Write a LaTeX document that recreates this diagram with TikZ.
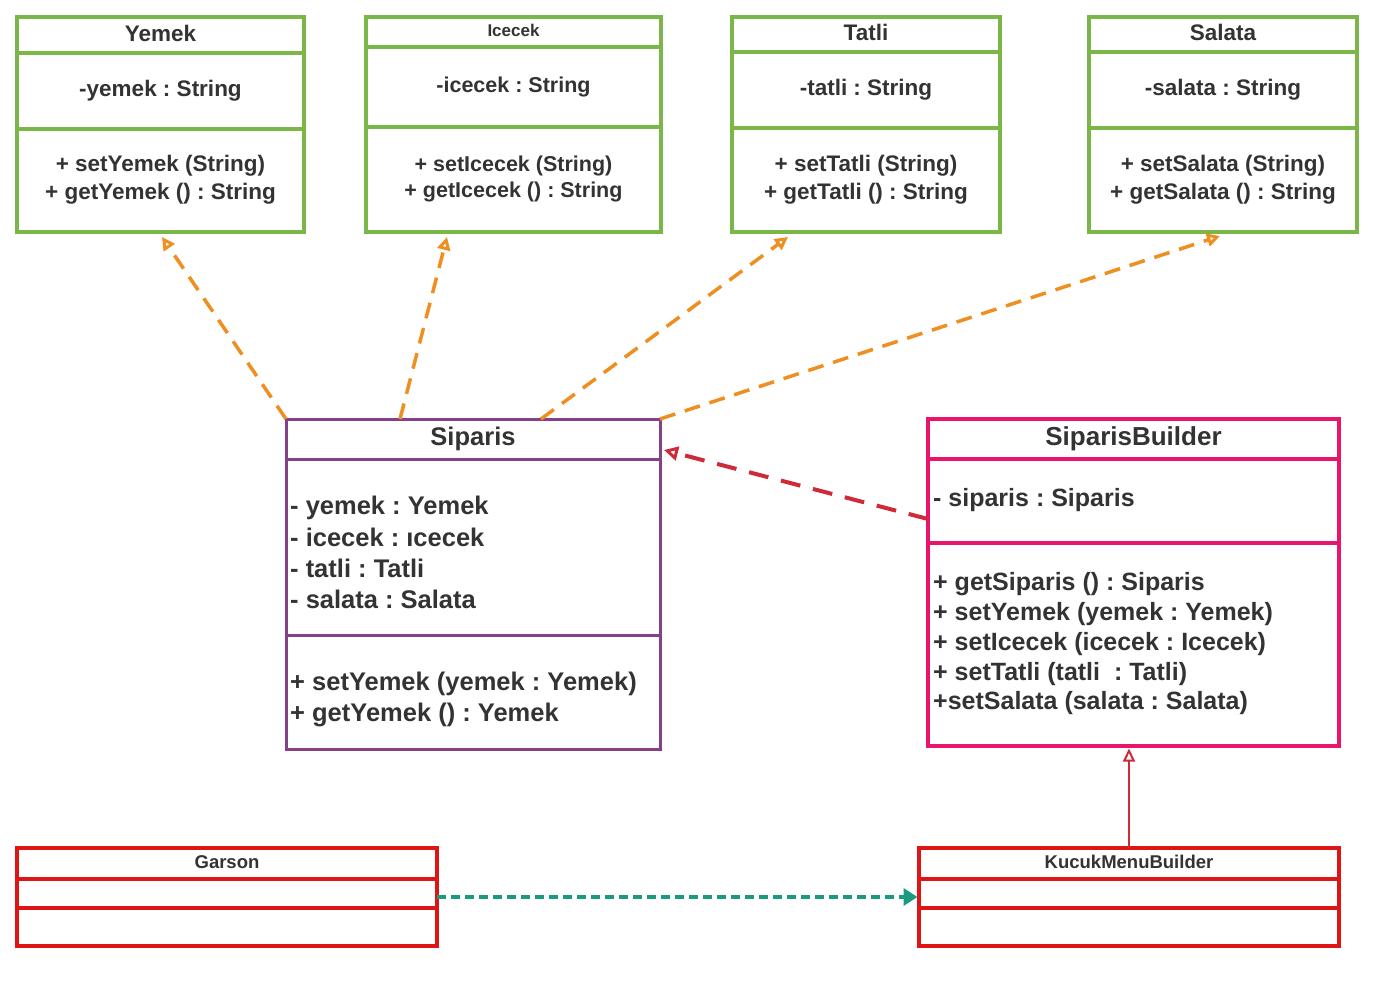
\documentclass[tikz,border=0pt]{standalone}
\usepackage{fontspec}
\setmainfont{Liberation Sans}
\usetikzlibrary{arrows.meta,calc}
\definecolor{grn}{HTML}{7AB648}
\definecolor{prp}{HTML}{834187}
\definecolor{pnk}{HTML}{E8156A}
\definecolor{rdb}{HTML}{DD1515}
\definecolor{org}{HTML}{EF8F22}
\definecolor{rdd}{HTML}{CF2A3A}
\definecolor{tel}{HTML}{1A9A80}
\definecolor{txt}{HTML}{333333}
\frenchspacing
\tikzset{
  umlbox/.style={draw=#1, fill=white, inner sep=0pt, outer sep=0pt},
  fs/.style 2 args={font=\fontsize{#1}{#2}\selectfont\bfseries\frenchspacing, text=txt, inner sep=0pt},
  orgarrow/.style={org, line width=3.5pt, dash pattern=on 16pt off 10pt,
    -{Triangle[open,length=13pt,width=13pt,line width=3pt]}},
}
\begin{document}
\begin{tikzpicture}[x=1pt,y=-1pt]
\useasboundingbox[fill=white] (0,0) rectangle (1385,992);

% ---------- Yemek ----------
\node[umlbox=grn, line width=4pt, minimum width=287pt, minimum height=215pt] (yemek) at (160.5,124.5) {};
\draw[grn, line width=4pt] (17,53) -- (304,53) (17,129) -- (304,129);
\node[fs={22.5}{27}] (yemekT) at (160.5,33) {Yemek};
\node[fs={22.5}{27}] (yemekA) at (160.5,90.5) {-yemek : String};
\node[fs={22.5}{28}, align=center] (yemekM) at (160.5,179.5) {+ setYemek (String)\\+ getYemek () : String};

% ---------- Icecek ----------
\node[umlbox=grn, line width=4pt, minimum width=295pt, minimum height=215pt] (icecek) at (513.5,124.5) {};
\draw[grn, line width=4pt] (366,47) -- (661,47) (366,127) -- (661,127);
\node[fs={17}{20}] (icecekT) at (513.5,30.5) {Icecek};
\node[fs={21.5}{26}] (icecekA) at (513.5,86.5) {-icecek : String};
\node[fs={21.5}{26}, align=center] (icecekM) at (513.5,178.5) {+ setIcecek (String)\\+ getIcecek () : String};

% ---------- Tatli ----------
\node[umlbox=grn, line width=4pt, minimum width=268pt, minimum height=215pt] (tatli) at (866,124.5) {};
\draw[grn, line width=4pt] (732,52) -- (1000,52) (732,128) -- (1000,128);
\node[fs={22.5}{27}] (tatliT) at (866,32) {Tatli};
\node[fs={22.5}{27}] (tatliA) at (866,89.5) {-tatli : String};
\node[fs={22.5}{28}, align=center] (tatliM) at (866,179.5) {+ setTatli (String)\\+ getTatli () : String};

% ---------- Salata ----------
\node[umlbox=grn, line width=4pt, minimum width=268pt, minimum height=215pt] (salata) at (1223,124.5) {};
\draw[grn, line width=4pt] (1089,52) -- (1357,52) (1089,128) -- (1357,128);
\node[fs={22.5}{27}] (salataT) at (1223,32) {Salata};
\node[fs={22.5}{27}] (salataA) at (1223,89.5) {-salata : String};
\node[fs={22.5}{28}, align=center] (salataM) at (1223,179.5) {+ setSalata (String)\\+ getSalata () : String};

% ---------- Siparis ----------
\node[umlbox=prp, line width=3pt, minimum width=374pt, minimum height=330pt] (siparis) at (473,584) {};
\draw[prp, line width=3pt] (286,459) -- (660,459) (286,635) -- (660,635);
\node[fs={25.5}{30}] (siparisT) at (473,439) {Siparis};
\node[fs={25.5}{30}, anchor=base west] (sa1) at (290,514) {- yemek : Yemek};
\node[fs={25.5}{30}, anchor=base west] (sa2) at (290,546) {- icecek : ıcecek};
\node[fs={25.5}{30}, anchor=base west] (sa3) at (290,577) {- tatli : Tatli};
\node[fs={25.5}{30}, anchor=base west] (sa4) at (290,608) {- salata : Salata};
\node[fs={25.5}{30}, anchor=base west] (sm1) at (290,690) {+ setYemek (yemek : Yemek)};
\node[fs={25.5}{30}, anchor=base west] (sm2) at (290,721) {+ getYemek () : Yemek};

% ---------- SiparisBuilder ----------
\node[umlbox=pnk, line width=3.5pt, minimum width=411pt, minimum height=327pt] (sb) at (1133.5,582.5) {};
\draw[pnk, line width=3.5pt] (928,459) -- (1339,459) (928,543) -- (1339,543);
\node[fs={26}{31}] (sbT) at (1133.5,439) {SiparisBuilder};
\node[fs={25}{30}, anchor=base west] (sbA) at (933,506) {- siparis : Siparis};
\node[fs={25}{30}, anchor=base west] (sbm1) at (933,590) {+ getSiparis () : Siparis};
\node[fs={25}{30}, anchor=base west] (sbm2) at (933,620) {+ setYemek (yemek : Yemek)};
\node[fs={25}{30}, anchor=base west] (sbm3) at (933,650) {+ setIcecek (icecek : Icecek)};
\node[fs={25}{30}, anchor=base west] (sbm4) at (933,680) {+ setTatli (tatli~ : Tatli)};
\node[fs={25}{30}, anchor=base west] (sbm5) at (933,709) {+setSalata (salata : Salata)};

% ---------- Garson ----------
\node[umlbox=rdb, line width=3.5pt, minimum width=420pt, minimum height=98pt] (garson) at (227,897) {};
\draw[rdb, line width=3.5pt] (17,879) -- (437,879) (17,908) -- (437,908);
\node[fs={18.5}{22}] (garsonT) at (227,862) {Garson};

% ---------- KucukMenuBuilder ----------
\node[umlbox=rdb, line width=3.5pt, minimum width=420pt, minimum height=98pt] (kmb) at (1129,897) {};
\draw[rdb, line width=3.5pt] (919,879) -- (1339,879) (919,908) -- (1339,908);
\node[fs={18.5}{22}] (kmbT) at (1129,862) {KucukMenuBuilder};

% ---------- connectors ----------
\coordinate (s1) at (400,419);
\coordinate (s2) at (541,419);
\coordinate (yE) at (162,237);
\coordinate (iE) at (447,237);
\coordinate (tE) at (788,237);
\coordinate (saE) at (1220,236);
\draw[orgarrow] (siparis.north west) -- (yE);
\draw[orgarrow] (s1) -- (iE);
\draw[orgarrow] (s2) -- (tE);
\draw[orgarrow] (siparis.north east) -- (saE);

\coordinate (sbL) at (928,519);
\coordinate (spR) at (664,450);
\draw[rdd, line width=4pt, dash pattern=on 20pt off 13pt,
  -{Triangle[open,length=14pt,width=14pt,line width=3pt]}] (sbL) -- (spR);

\coordinate (inhT) at (1129,748.5);
\draw[rdd, line width=2pt, -{Triangle[open,length=13pt,width=12pt,line width=2pt]}] (kmb.north) -- (inhT);

\draw[tel, line width=4pt, dash pattern=on 9pt off 5pt,
  -{Triangle[length=14pt,width=17pt]}] (garson.east) -- ([xshift=-1.5pt]kmb.west);
\end{tikzpicture}
\end{document}
